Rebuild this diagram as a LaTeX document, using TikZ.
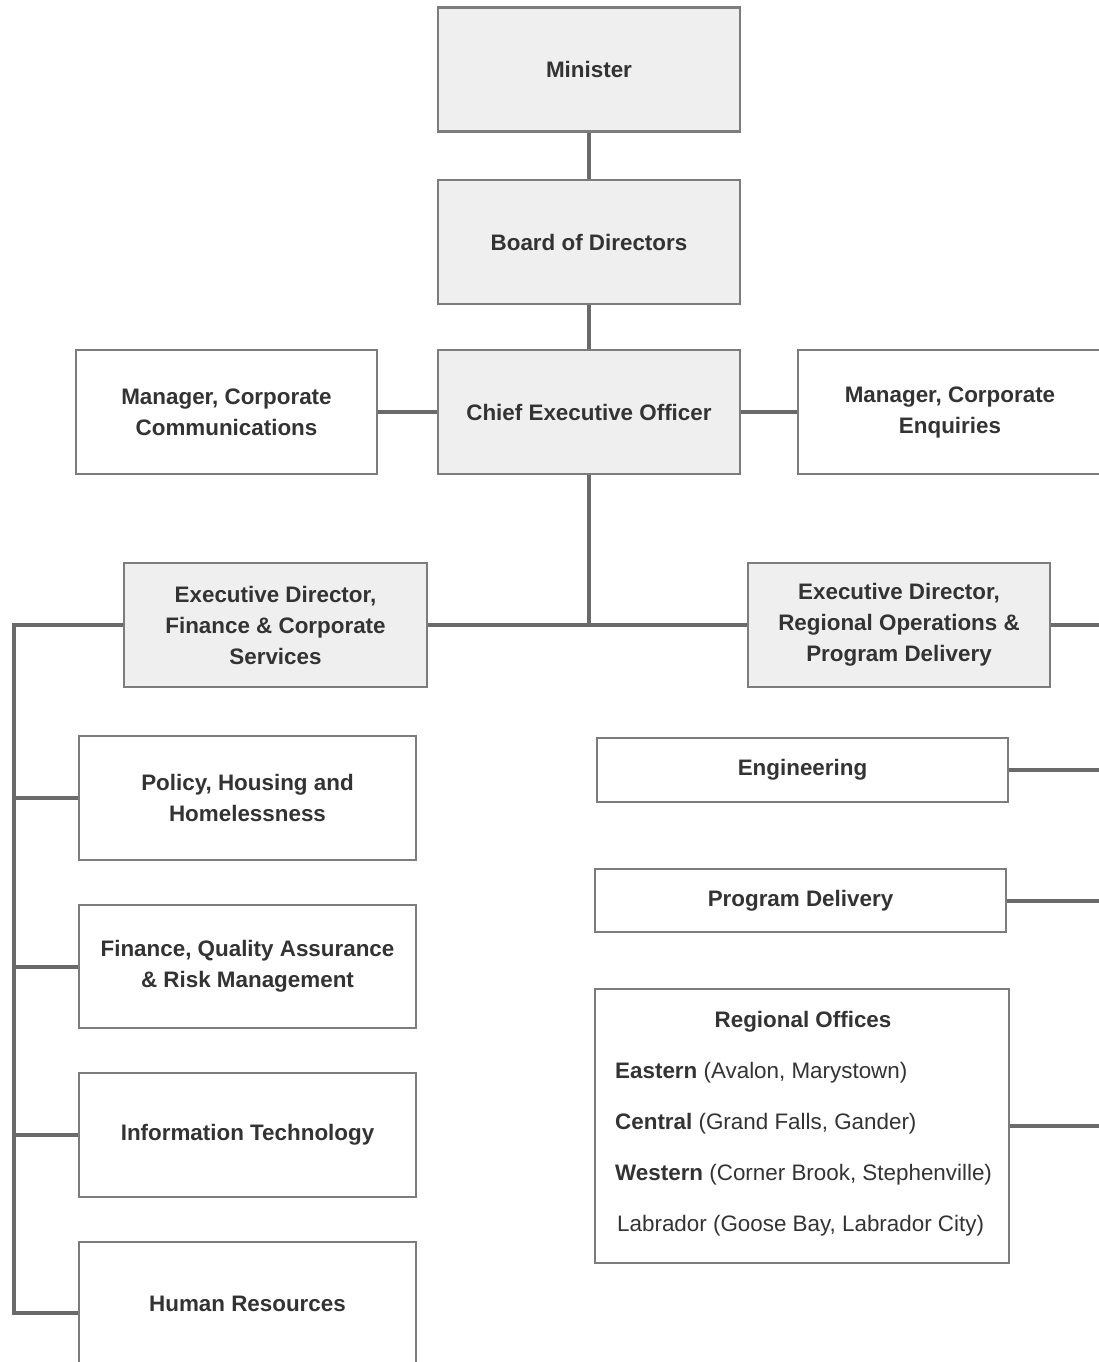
\documentclass[tikz,border=0pt]{standalone}
\usepackage{fontspec}
\setmainfont{Liberation Sans}
\definecolor{bordc}{HTML}{7C7C7C}
\definecolor{fillc}{HTML}{EFEFEF}
\definecolor{connc}{HTML}{6A6A6A}
\definecolor{txtc}{HTML}{333333}
\newcommand{\fsz}{\fontsize{22.4}{31}\selectfont}
\begin{document}
\begin{tikzpicture}[x=1pt,y=-1pt,
  basebox/.style={draw=bordc, text=txtc, font=\fsz\bfseries, align=center, inner sep=0pt},
  gbox/.style={basebox, fill=fillc, line width=2.6pt, minimum width=302pt, minimum height=124pt},
  wbox/.style={basebox, fill=white, line width=1.8pt, minimum width=337pt, minimum height=124pt},
  conn/.style={draw=connc, line width=4pt, line join=miter},
  rtxt/.style={anchor=west, inner sep=0pt, text=txtc, font=\fsz}
]
\useasboundingbox (0,0) rectangle (1099,1362);
\clip (0,0) rectangle (1099,1362);
\fill[white] (0,0) rectangle (1099,1362);

% top column
\node[gbox] (min) at (589,69.5) {Minister};
\node[gbox] (brd) at (589,242) {Board of Directors};
\node[gbox] (ceo) at (589,412) {Chief Executive Officer};
\node[wbox, minimum width=301pt] (mcc) at (226.5,412) {Manager, Corporate\\Communications};
\node[wbox, minimum width=304pt] (mce) at (950,412) {Manager, Corporate\\Enquiries};

% executive directors
\node[gbox, minimum width=303pt] (edf) at (275.5,625) {Executive Director,\\Finance \& Corporate\\Services};
\node[gbox] (edr) at (899,625) {Executive Director,\\Regional Operations \&\\Program Delivery};

% left branch
\node[wbox] (pol) at (247.5,798) {Policy, Housing and\\Homelessness};
\node[wbox, minimum height=123pt] (fqa) at (247.5,966.5) {Finance, Quality Assurance\\\& Risk Management};
\node[wbox] (it) at (247.5,1135) {Information Technology};
\node[wbox] (hr) at (247.5,1304) {Human Resources};

% right branch
\node[wbox, minimum width=411pt, minimum height=64pt] (eng) at (802.5,770) {Engineering};
\node[wbox, minimum width=411pt, minimum height=63pt] (pd) at (800.5,900.5) {Program Delivery};
\node[wbox, minimum width=414pt, minimum height=274pt] (ro) at (802,1126) {};
\node[inner sep=0pt, text=txtc, font=\fsz\bfseries] (rot) at (803,1022) {Regional Offices};
\node[rtxt] (roe) at (615,1073) {\textbf{Eastern} (Avalon, Marystown)};
\node[rtxt] (roc) at (615,1124) {\textbf{Central} (Grand Falls, Gander)};
\node[rtxt] (row) at (615,1175) {\textbf{Western} (Corner Brook, Stephenville)};
\node[rtxt] (rol) at (617,1226) {Labrador (Goose Bay, Labrador City)};

% coordinates
\coordinate (busTop) at (14,625);
\coordinate (busBot) at (14,1313);
\coordinate (rEdge) at (1103,0);

% connectors
\draw[conn] (min.south) -- (brd.north);
\draw[conn] (brd.south) -- (ceo.north);
\draw[conn] (ceo.west) -- (mcc.east);
\draw[conn] (ceo.east) -- (mce.west);
\draw[conn] (ceo.south) -- (ceo.south |- edf.east);
\draw[conn] (edf.east) -- (edr.west);
\draw[conn] (edf.west) -- (busTop) -- (busBot) -- (hr.west |- busBot);
\draw[conn] (busTop |- pol.west) -- (pol.west);
\draw[conn] (busTop |- fqa.west) -- (fqa.west);
\draw[conn] (busTop |- it.west) -- (it.west);
\draw[conn] (edr.east) -- (rEdge |- edr.east);
\draw[conn] (eng.east) -- (rEdge |- eng.east);
\draw[conn] (pd.east) -- (rEdge |- pd.east);
\draw[conn] (ro.east) -- (rEdge |- ro.east);
\end{tikzpicture}
\end{document}
